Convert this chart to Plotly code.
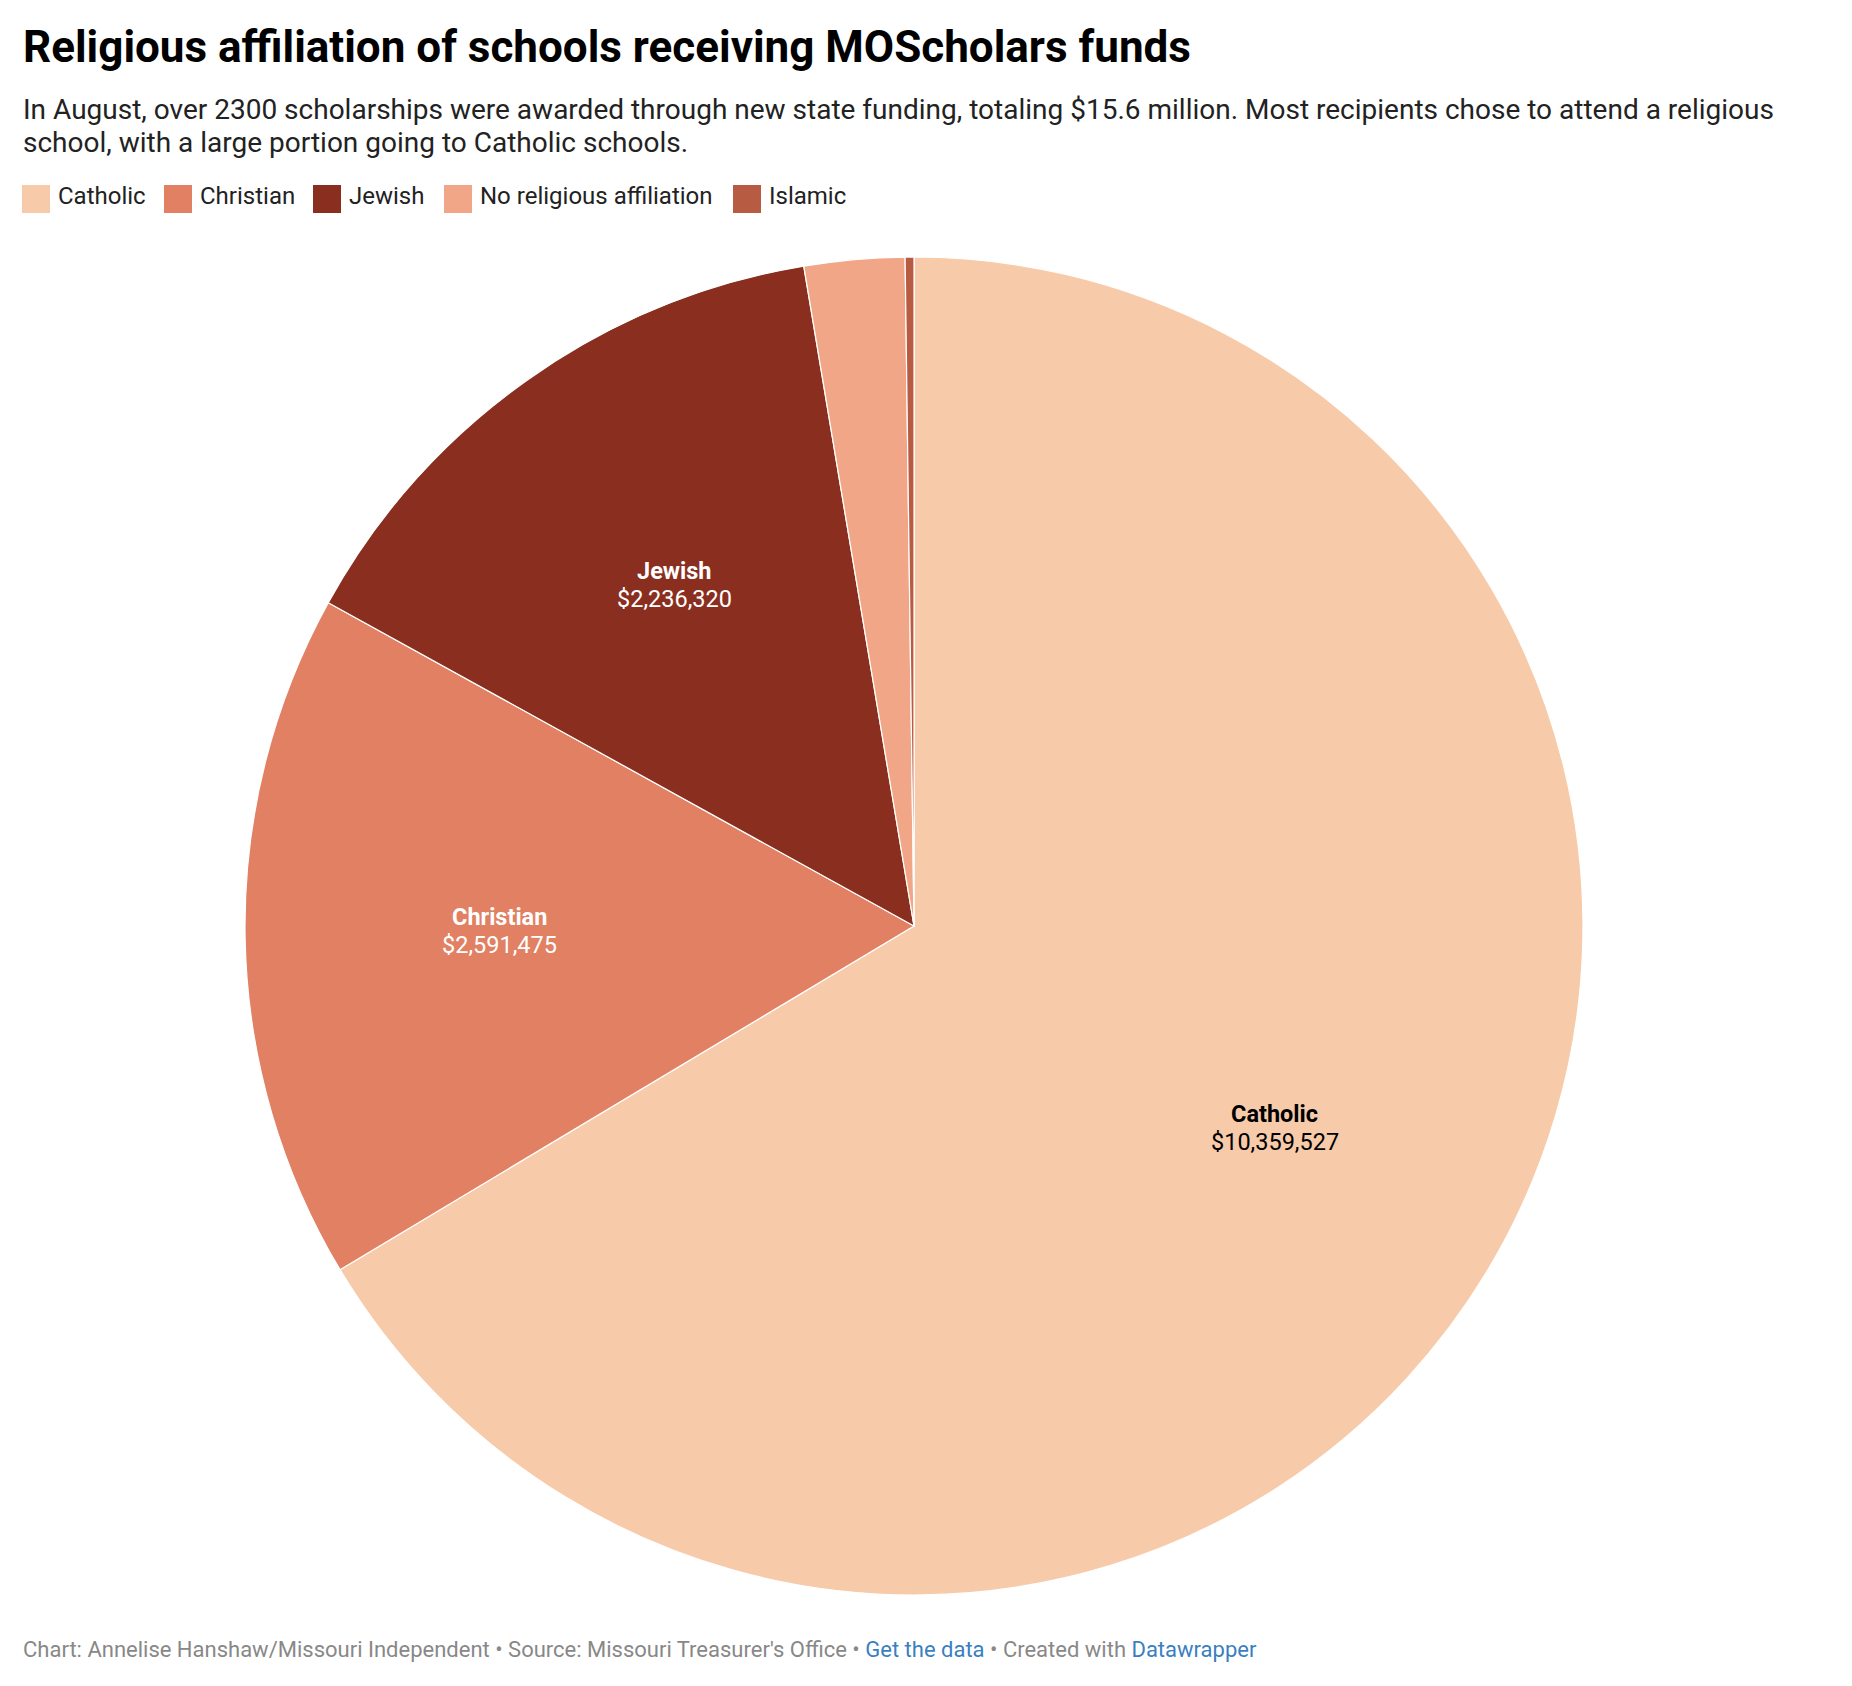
import math
import plotly.graph_objects as go

# ---- data ----
categories = ["Catholic", "Christian", "Jewish", "No religious affiliation", "Islamic"]
amounts = [10359527, 2591475, 2236320, 378000, 33000]
value_labels = ["$10,359,527", "$2,591,475", "$2,236,320", "", ""]
show_label = [True, True, True, False, False]

# ---- style ----
colors = ["#f7cbaa", "#e18063", "#8a2f1f", "#f1a787", "#b75b42"]
label_colors = ["#000000", "#ffffff", "#ffffff", "#ffffff", "#ffffff"]

W, H = 1852, 1686
FONT = "Roboto"

def fx(x):
    return x / W

def fy(y):
    return 1 - y / H

def text_ann(x, baseline, text, size, color, anchor="left"):
    # place text so that its baseline lands at the given pixel row
    return dict(
        x=fx(x), y=fy(baseline + 0.244 * size), xref="paper", yref="paper",
        xanchor=anchor, yanchor="bottom", showarrow=False, borderpad=0,
        align=anchor if anchor != "center" else "center",
        text=text, font=dict(family=FONT, size=size, color=color),
    )

# pie geometry (pixels)
CX, CY, R = 914, 926, 669
LABEL_FRAC = 0.62

fig = go.Figure()
fig.add_trace(go.Pie(
    labels=categories,
    values=amounts,
    sort=False,
    direction="clockwise",
    rotation=0,
    marker=dict(colors=colors, line=dict(color="#ffffff", width=1.2)),
    textinfo="none",
    hoverinfo="label+value",
    showlegend=False,
    domain=dict(x=[fx(CX - R), fx(CX + R)], y=[fy(CY + R), fy(CY - R)]),
))

annotations = []

# slice labels placed at the mid-angle of each slice
total = sum(amounts)
cum = 0.0
for cat, val, vlab, show, col in zip(categories, amounts, value_labels, show_label, label_colors):
    mid = (cum + val / 2) / total * 2 * math.pi
    cum += val
    if not show:
        continue
    px = CX + LABEL_FRAC * R * math.sin(mid)
    py = CY - LABEL_FRAC * R * math.cos(mid)
    annotations.append(text_ann(px, py - 7, f"<b>{cat}</b>", 23.5, col, "center"))
    annotations.append(text_ann(px, py + 21, vlab, 23.5, col, "center"))

# title & subtitle
annotations.append(text_ann(22, 63, "<b>Religious affiliation of schools receiving MOScholars funds</b>",
                            44, "#000000"))
annotations.append(text_ann(22, 120,
                            "In August, over 2300 scholarships were awarded through new state funding, "
                            "totaling $15.6 million. Most recipients chose to attend a religious",
                            28, "#222222"))
annotations.append(text_ann(22, 153, "school, with a large portion going to Catholic schools.",
                            28, "#222222"))

# legend (manual, matching the original swatch layout)
legend_x = [22, 164, 313, 444, 733]
SW = 28
shapes = []
for cat, col, lx in zip(categories, colors, legend_x):
    shapes.append(dict(type="rect", xref="paper", yref="paper",
                       x0=fx(lx), x1=fx(lx + SW), y0=fy(213), y1=fy(185),
                       fillcolor=col, line=dict(width=0)))
    annotations.append(text_ann(lx + 35, 205, cat, 24, "#222222"))

# footer
link = "#3a7fc1"
annotations.append(text_ann(
    22, 1658,
    "Chart: Annelise Hanshaw/Missouri Independent • Source: Missouri Treasurer's Office • "
    f"<span style='color:{link}'>Get the data</span> • Created with "
    f"<span style='color:{link}'>Datawrapper</span>",
    22, "#888888"))

fig.update_layout(
    width=W, height=H, autosize=False,
    margin=dict(l=0, r=0, t=0, b=0),
    paper_bgcolor="#ffffff", plot_bgcolor="#ffffff",
    annotations=annotations, shapes=shapes,
    font=dict(family=FONT),
)

fig.write_html("out.html", config={"displayModeBar": False},
               post_script="document.body.style.margin='0';document.body.style.overflow='hidden';")
